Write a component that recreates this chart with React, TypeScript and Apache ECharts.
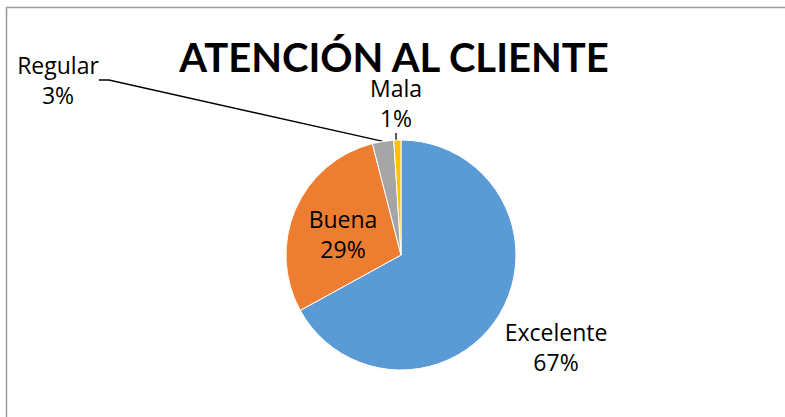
import React, { useEffect, useRef } from "react";
import * as echarts from "echarts";

const titleText = "ATENCIÓN AL CLIENTE";
const categories = ["Excelente", "Buena", "Regular", "Mala"];
const values = [67, 29, 3, 1];
const colors = ["#5B9BD5", "#ED7D31", "#A5A5A5", "#FFC000"];

// label anchor positions (layout only)
const labelPos: Record<string, [number, number]> = {
  Excelente: [556, 347],
  Buena: [343, 234],
  Regular: [58, 80],
  Mala: [396, 103],
};

export default function App() {
  const ref = useRef<HTMLDivElement>(null);
  useEffect(() => {
    if (!ref.current) return;
    const chart = echarts.init(ref.current, null, { renderer: "svg" });
    const font = "Open Sans";
    chart.setOption({
      animation: false,
      backgroundColor: "#ffffff",
      title: {
        text: titleText,
        left: 394,
        top: 42,
        padding: 0,
        textAlign: "center",
        textStyle: {
          fontFamily: "Lato",
          fontWeight: "bold",
          fontSize: 40,
          lineHeight: 30,
          color: "#000",
        },
      },
      graphic: [
        {
          type: "rect",
          shape: { x: 6.5, y: 7.5, width: 1000, height: 1000 },
          style: { fill: "none", stroke: "#9a9a9a", lineWidth: 1.5 },
          silent: true,
        },
      ],
      series: [
        {
          type: "pie",
          center: [401, 255],
          radius: 115,
          startAngle: 90,
          clockwise: true,
          avoidLabelOverlap: false,
          itemStyle: { borderColor: "#ffffff", borderWidth: 1 },
          label: {
            show: true,
            position: "outside",
            fontFamily: font,
            fontSize: 23,
            lineHeight: 30,
            color: "#000",
            align: "center",
            formatter: (p: any) => `${p.name}\n${Math.round(p.percent)}%`,
          },
          labelLine: {
            show: true,
            length: 10,
            length2: 10,
            lineStyle: { color: "#000", width: 1.3 },
          },
          labelLayout: (params: any) => {
            const name = categories[params.dataIndex];
            const pos = labelPos[name];
            return {
              x: pos[0],
              y: pos[1],
              align: "center",
              verticalAlign: "middle",
            };
          },
          data: categories.map((c, i) => ({
            name: c,
            value: values[i],
            itemStyle: { color: colors[i] },
            label:
              c === "Buena" ? { position: "inside" } : { position: "outside" },
            labelLine: { show: c === "Regular" || c === "Mala" },
          })),
        },
      ],
    });
    return () => chart.dispose();
  }, []);
  return (
    <div
      ref={ref}
      style={{ position: "fixed", left: 0, top: 0, width: 785, height: 417 }}
    />
  );
}
